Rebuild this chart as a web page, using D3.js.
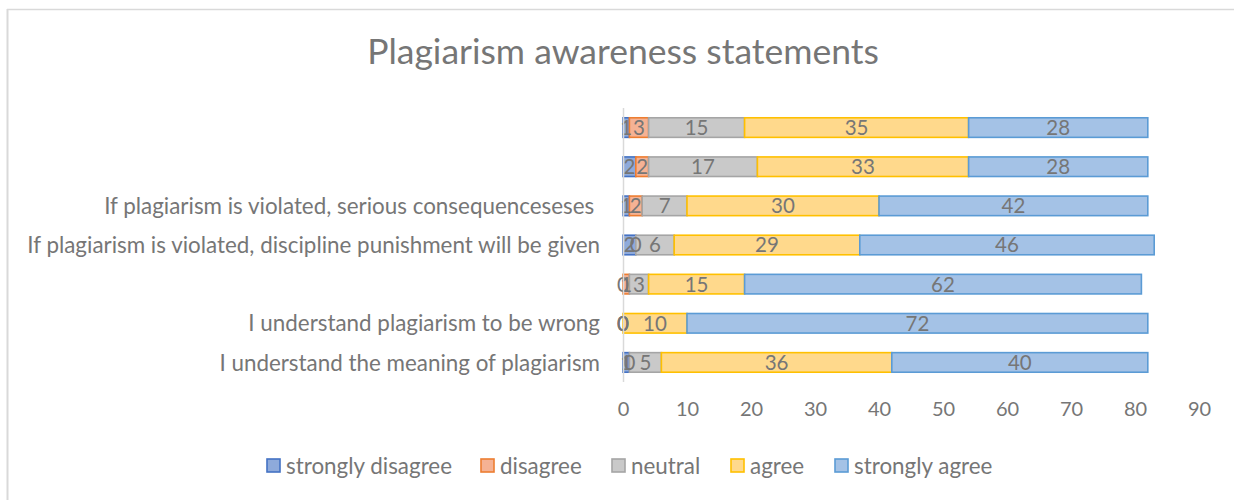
<!DOCTYPE html>
<html><head><meta charset="utf-8">
<script src="https://cdn.jsdelivr.net/npm/d3@7"></script>
<style>
html,body{margin:0;padding:0;background:#fff;}
svg{display:block;}
text{font-family:Lato,"Open Sans",sans-serif;fill:#767676;}
</style></head>
<body>
<svg id="chart" width="1234" height="500"></svg>
<script>
const title = "Plagiarism awareness statements";
const categories = [
  "",
  "",
  "If plagiarism is violated, serious consequenceseses ",
  "If plagiarism is violated, discipline punishment will be given",
  "",
  "I understand plagiarism to be wrong",
  "I understand the meaning of plagiarism"
];
const seriesNames = ["strongly disagree","disagree","neutral","agree","strongly agree"];
const stronglyDisagree = [1, 2, 1, 2, 0, 0, 1];
const disagree         = [3, 2, 2, 0, 1, 0, 0];
const neutral          = [15,17, 7, 6, 3, 0, 5];
const agree            = [35,33,30,29,15,10,36];
const stronglyAgree    = [28,28,42,46,62,72,40];
const xTicks = [0,10,20,30,40,50,60,70,80,90];

const fills   = ["#8eaadb","#f5b294","#c9c9c9","#ffd98c","#a4c2e6"];
const strokes = ["#4472c4","#ed7d31","#a5a5a5","#ffc000","#5b9bd5"];

const seriesValues = [stronglyDisagree, disagree, neutral, agree, stronglyAgree];
const rows = categories.map((c,i)=>{
  const o = {idx:i, cat:c};
  seriesNames.forEach((s,j)=>o[s]=seriesValues[j][i]);
  return o;
});
const stacked = d3.stack().keys(seriesNames)(rows);

const svg = d3.select("#chart");

// frame
svg.append("line").attr("x1",7).attr("x2",1234).attr("y1",9.5).attr("y2",9.5)
  .attr("stroke","#d9d9d9").attr("stroke-width",1.5);
svg.append("line").attr("x1",7.5).attr("x2",7.5).attr("y1",9).attr("y2",500)
  .attr("stroke","#d9d9d9").attr("stroke-width",2);

svg.append("text").attr("x",623).attr("y",64).attr("text-anchor","middle")
  .style("font-size","35.5px").text(title);

const x = d3.scaleLinear().domain([0,90]).range([623,1199]);
const y = d3.scaleBand().domain(d3.range(categories.length)).range([108,382]).paddingInner(0.5).paddingOuter(0.25);

// bars
const g = svg.append("g");
stacked.forEach((layer,j)=>{
  g.selectAll(null).data(layer).enter().append("rect")
    .attr("x",d=>x(d[0])).attr("width",d=>x(d[1])-x(d[0]))
    .attr("y",(d,i)=>y(i)).attr("height",y.bandwidth())
    .attr("fill",fills[j]).attr("stroke",strokes[j]).attr("stroke-width",1.6);
});
// value labels
stacked.forEach((layer,j)=>{
  g.selectAll(null).data(layer).enter().append("text")
    .attr("x",d=>(x(d[0])+x(d[1]))/2)
    .attr("y",(d,i)=>y(i)+y.bandwidth()/2)
    .attr("dy","0.36em").attr("text-anchor","middle")
    .style("font-size","20.5px")
    .text(d=>d[1]-d[0]);
});

// y axis line
svg.append("line").attr("x1",623.5).attr("x2",623.5).attr("y1",108).attr("y2",382)
  .attr("stroke","#d9d9d9").attr("stroke-width",1.5);

// category labels
const yAxis = d3.axisLeft(y).tickSize(0).tickPadding(0).tickFormat(i=>categories[i]);
const ya = svg.append("g").attr("transform","translate(600,0)").call(yAxis);
ya.select(".domain").remove();
ya.selectAll("text").style("font-size","22.4px").attr("fill","#767676")
  .style("white-space","pre").attr("dy","0.36em");

// x axis
const xAxis = d3.axisBottom(x).tickValues(xTicks).tickSize(0).tickPadding(0);
const xa = svg.append("g").attr("transform","translate(0,402)").call(xAxis);
xa.select(".domain").remove();
xa.selectAll("text").style("font-size","20px").attr("fill","#767676").attr("dy","0.71em");

// legend
const legendX = [267, 481, 612, 731, 835];
const lg = svg.append("g");
seriesNames.forEach((s,j)=>{
  lg.append("rect").attr("x",legendX[j]).attr("y",459).attr("width",13).attr("height",13)
    .attr("fill",fills[j]).attr("stroke",strokes[j]).attr("stroke-width",1.6);
  lg.append("text").attr("x",legendX[j]+19).attr("y",466).attr("dy","0.36em")
    .style("font-size","22.4px").text(s);
});
</script>
</body></html>
